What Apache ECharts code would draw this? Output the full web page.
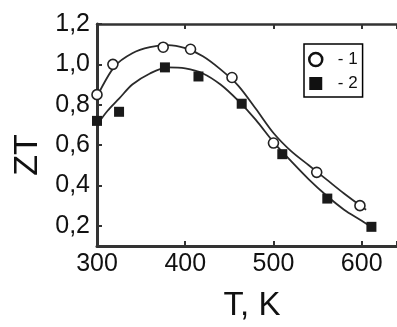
<!DOCTYPE html>
<html>
<head>
<meta charset="utf-8">
<script src="https://cdn.jsdelivr.net/npm/echarts@6/dist/echarts.min.js"></script>
<style>
html,body{margin:0;padding:0;background:#fff;}
#c{width:397px;height:327px;}
</style>
</head>
<body>
<div id="c"></div>
<script>
// measured points
const temps1 = [300, 318, 375, 406, 453, 500, 549, 598];
const zt1    = [0.85, 1.00, 1.085, 1.075, 0.935, 0.61, 0.465, 0.30];
const temps2 = [300, 325, 377, 415, 464, 510, 561, 611];
const zt2    = [0.72, 0.765, 0.985, 0.94, 0.805, 0.555, 0.335, 0.195];
// fitted curves
const fitT1  = [300, 320, 340, 360, 380, 400, 420, 440, 460, 480, 500, 520, 540, 560, 580, 600, 605];
const fitZT1 = [0.84, 0.99, 1.055, 1.085, 1.095, 1.08, 1.04, 0.975, 0.895, 0.78, 0.66, 0.57, 0.50, 0.43, 0.36, 0.295, 0.28];
const fitT2  = [300, 312, 325, 340, 360, 380, 400, 420, 440, 460, 480, 500, 520, 540, 560, 580, 600, 612];
const fitZT2 = [0.70, 0.77, 0.83, 0.90, 0.955, 0.985, 0.98, 0.955, 0.90, 0.82, 0.725, 0.615, 0.52, 0.43, 0.35, 0.28, 0.225, 0.19];
const xTickValues = [300, 400, 500, 600];
const yTickValues = [0.2, 0.4, 0.6, 0.8, 1.0, 1.2];
const seriesNames = ['1', '2'];

const pairs = (xs, ys) => xs.map((x, i) => [x, ys[i]]);
const font = 'Liberation Sans, Arial, sans-serif';

const chart = echarts.init(document.getElementById('c'), null, {renderer: 'canvas'});
chart.setOption({
  backgroundColor: '#fff',
  animation: false,
  grid: {left: 97, right: 0, top: 24, bottom: 70, containLabel: false},
  legend: {
    data: [
      {name: seriesNames[0], icon: 'circle', itemStyle: {color: '#fff', borderColor: '#111', borderWidth: 2.5}},
      {name: seriesNames[1], icon: 'path://M0,0H10V10H0Z', itemStyle: {color: '#111', borderWidth: 0}}
    ],
    orient: 'vertical',
    left: 304, top: 44,
    itemWidth: 34, itemHeight: 13, itemGap: 7,
    symbolKeepAspect: true,
    padding: [7, 5, 5, 4],
    borderColor: '#000', borderWidth: 1.5,
    formatter: n => '- ' + n,
    textStyle: {fontFamily: font, fontSize: 17, color: '#111'}
  },
  xAxis: [{
    type: 'value', min: 300, max: 640, interval: 100,
    name: 'T, K', nameLocation: 'middle', nameGap: 43,
    nameTextStyle: {fontFamily: font, fontSize: 33, color: '#111', padding: [0, 0, 0, 10]},
    axisLine: {show: true, lineStyle: {color: '#333', width: 3}},
    axisTick: {show: true, inside: true, length: 5, lineStyle: {color: '#333', width: 2}},
    axisLabel: {fontFamily: font, fontSize: 25, color: '#111', margin: 6,
      customValues: xTickValues},
    splitLine: {show: false}
  }, {
    type: 'value', min: 300, max: 640, interval: 100, position: 'top',
    axisLine: {show: true, lineStyle: {color: '#333', width: 2.5}},
    axisTick: {show: true, inside: true, length: 5, lineStyle: {color: '#333', width: 2}},
    axisLabel: {show: false},
    splitLine: {show: false}
  }],
  yAxis: {
    type: 'value', min: 0.1, max: 1.2,
    name: 'ZT', nameLocation: 'middle', nameGap: 52, nameRotate: 90,
    nameTextStyle: {fontFamily: font, fontSize: 34, color: '#111', padding: [0, 40, 0, 0]},
    axisLine: {show: true, lineStyle: {color: '#333', width: 3}},
    axisTick: {show: true, inside: true, length: 5, lineStyle: {color: '#333', width: 2},
      customValues: yTickValues},
    axisLabel: {fontFamily: font, fontSize: 25, color: '#111', margin: 7,
      customValues: yTickValues,
      formatter: v => v.toFixed(1).replace('.', ',')},
    splitLine: {show: false}
  },
  series: [
    {type: 'line', data: pairs(fitT1, fitZT1), smooth: 0.3, showSymbol: false, symbol: 'none',
      lineStyle: {color: '#2a2a2a', width: 1.8}, z: 2},
    {type: 'line', data: pairs(fitT2, fitZT2), smooth: 0.3, showSymbol: false, symbol: 'none',
      lineStyle: {color: '#2a2a2a', width: 1.8}, z: 2},
    {type: 'scatter', name: seriesNames[0], data: pairs(temps1, zt1), symbol: 'circle', symbolSize: 10,
      itemStyle: {color: '#fff', borderColor: '#222', borderWidth: 1.6, opacity: 1}, clip: false, z: 3},
    {type: 'scatter', name: seriesNames[1], data: pairs(temps2, zt2), symbol: 'rect', symbolSize: 10,
      itemStyle: {color: '#1a1a1a', opacity: 1}, clip: false, z: 3}
  ]
});
</script>
</body>
</html>
